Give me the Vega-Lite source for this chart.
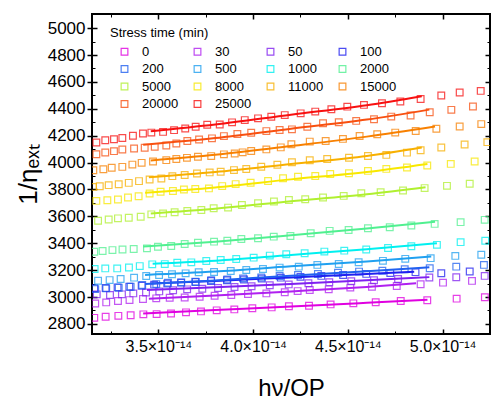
{
"$schema": "https://vega.github.io/schema/vega-lite/v6.json",
"width": 398, "height": 320,
"autosize": {"type": "none"},
"padding": {"left": 92, "top": 14, "right": 1, "bottom": 65},
"config": {"view": {"stroke": "#000", "strokeWidth": 2}, "font": "Liberation Sans",
  "axis": {"grid": false, "domain": false, "tickColor": "#000", "labelColor": "#000", "titleColor": "#000", "labelFont": "Liberation Sans", "titleFont": "Liberation Sans", "titleFontWeight": "normal"}},
"datasets": {
"pts": [
{"s":"0","x":3.162e-14,"y":2845},{"s":"0","x":3.222e-14,"y":2853},{"s":"0","x":3.289e-14,"y":2860},{"s":"0","x":3.354e-14,"y":2865},{"s":"0","x":3.421e-14,"y":2871},{"s":"0","x":3.491e-14,"y":2873},{"s":"0","x":3.567e-14,"y":2878},{"s":"0","x":3.646e-14,"y":2886},{"s":"0","x":3.725e-14,"y":2893},{"s":"0","x":3.808e-14,"y":2901},{"s":"0","x":3.901e-14,"y":2908},{"s":"0","x":3.996e-14,"y":2916},{"s":"0","x":4.098e-14,"y":2923},{"s":"0","x":4.189e-14,"y":2931},{"s":"0","x":4.295e-14,"y":2935},{"s":"0","x":4.409e-14,"y":2945},{"s":"0","x":4.529e-14,"y":2953},{"s":"0","x":4.647e-14,"y":2961},{"s":"0","x":4.779e-14,"y":2971},{"s":"0","x":4.919e-14,"y":2976},{"s":"0","x":5.074e-14,"y":2988},{"s":"0","x":5.223e-14,"y":2998},
{"s":"30","x":3.167e-14,"y":2952},{"s":"30","x":3.225e-14,"y":2960},{"s":"30","x":3.287e-14,"y":2970},{"s":"30","x":3.348e-14,"y":2977},{"s":"30","x":3.419e-14,"y":2985},{"s":"30","x":3.489e-14,"y":2990},{"s":"30","x":3.560e-14,"y":2995},{"s":"30","x":3.639e-14,"y":2997},{"s":"30","x":3.718e-14,"y":3002},{"s":"30","x":3.797e-14,"y":3010},{"s":"30","x":3.885e-14,"y":3015},{"s":"30","x":3.973e-14,"y":3022},{"s":"30","x":4.070e-14,"y":3027},{"s":"30","x":4.167e-14,"y":3035},{"s":"30","x":4.235e-14,"y":3044},{"s":"30","x":4.299e-14,"y":3052},{"s":"30","x":4.399e-14,"y":3057},{"s":"30","x":4.513e-14,"y":3070},{"s":"30","x":4.627e-14,"y":3077},{"s":"30","x":4.758e-14,"y":3082},{"s":"30","x":4.884e-14,"y":3095},{"s":"30","x":5.002e-14,"y":3107},{"s":"30","x":5.155e-14,"y":3120},
{"s":"50","x":3.175e-14,"y":3020},{"s":"50","x":3.245e-14,"y":3015},{"s":"50","x":3.308e-14,"y":3020},{"s":"50","x":3.368e-14,"y":3027},{"s":"50","x":3.435e-14,"y":3034},{"s":"50","x":3.505e-14,"y":3042},{"s":"50","x":3.578e-14,"y":3050},{"s":"50","x":3.652e-14,"y":3057},{"s":"50","x":3.732e-14,"y":3062},{"s":"50","x":3.815e-14,"y":3067},{"s":"50","x":3.902e-14,"y":3074},{"s":"50","x":3.992e-14,"y":3080},{"s":"50","x":4.088e-14,"y":3087},{"s":"50","x":4.188e-14,"y":3094},{"s":"50","x":4.292e-14,"y":3102},{"s":"50","x":4.402e-14,"y":3110},{"s":"50","x":4.518e-14,"y":3117},{"s":"50","x":4.638e-14,"y":3125},{"s":"50","x":4.765e-14,"y":3134},{"s":"50","x":4.930e-14,"y":3145},{"s":"50","x":5.072e-14,"y":3147},{"s":"50","x":5.222e-14,"y":3157},
{"s":"100","x":3.162e-14,"y":3065},{"s":"100","x":3.222e-14,"y":3067},{"s":"100","x":3.285e-14,"y":3072},{"s":"100","x":3.347e-14,"y":3077},{"s":"100","x":3.412e-14,"y":3084},{"s":"100","x":3.478e-14,"y":3092},{"s":"100","x":3.547e-14,"y":3100},{"s":"100","x":3.620e-14,"y":3107},{"s":"100","x":3.697e-14,"y":3112},{"s":"100","x":3.778e-14,"y":3119},{"s":"100","x":3.862e-14,"y":3125},{"s":"100","x":3.952e-14,"y":3130},{"s":"100","x":4.046e-14,"y":3137},{"s":"100","x":4.146e-14,"y":3144},{"s":"100","x":4.250e-14,"y":3150},{"s":"100","x":4.360e-14,"y":3157},{"s":"100","x":4.475e-14,"y":3164},{"s":"100","x":4.597e-14,"y":3172},{"s":"100","x":4.724e-14,"y":3179},{"s":"100","x":4.857e-14,"y":3185},{"s":"100","x":4.993e-14,"y":3177},{"s":"100","x":5.143e-14,"y":3190},
{"s":"200","x":3.167e-14,"y":3059},{"s":"200","x":3.225e-14,"y":3064},{"s":"200","x":3.291e-14,"y":3069},{"s":"200","x":3.354e-14,"y":3076},{"s":"200","x":3.415e-14,"y":3089},{"s":"200","x":3.489e-14,"y":3096},{"s":"200","x":3.551e-14,"y":3106},{"s":"200","x":3.621e-14,"y":3109},{"s":"200","x":3.695e-14,"y":3114},{"s":"200","x":3.779e-14,"y":3126},{"s":"200","x":3.864e-14,"y":3131},{"s":"200","x":3.947e-14,"y":3139},{"s":"200","x":4.043e-14,"y":3146},{"s":"200","x":4.140e-14,"y":3156},{"s":"200","x":4.237e-14,"y":3164},{"s":"200","x":4.342e-14,"y":3171},{"s":"200","x":4.448e-14,"y":3181},{"s":"200","x":4.559e-14,"y":3189},{"s":"200","x":4.682e-14,"y":3196},{"s":"200","x":4.800e-14,"y":3206},{"s":"200","x":4.932e-14,"y":3214},{"s":"200","x":5.072e-14,"y":3226},{"s":"200","x":5.218e-14,"y":3239},
{"s":"500","x":3.182e-14,"y":3121},{"s":"500","x":3.243e-14,"y":3126},{"s":"500","x":3.301e-14,"y":3134},{"s":"500","x":3.372e-14,"y":3144},{"s":"500","x":3.436e-14,"y":3156},{"s":"500","x":3.504e-14,"y":3164},{"s":"500","x":3.572e-14,"y":3169},{"s":"500","x":3.644e-14,"y":3176},{"s":"500","x":3.713e-14,"y":3184},{"s":"500","x":3.794e-14,"y":3186},{"s":"500","x":3.882e-14,"y":3194},{"s":"500","x":3.964e-14,"y":3201},{"s":"500","x":4.052e-14,"y":3209},{"s":"500","x":4.140e-14,"y":3219},{"s":"500","x":4.241e-14,"y":3226},{"s":"500","x":4.339e-14,"y":3239},{"s":"500","x":4.452e-14,"y":3246},{"s":"500","x":4.557e-14,"y":3259},{"s":"500","x":4.685e-14,"y":3269},{"s":"500","x":4.803e-14,"y":3284},{"s":"500","x":4.937e-14,"y":3289},{"s":"500","x":5.067e-14,"y":3306},{"s":"500","x":5.204e-14,"y":3314},
{"s":"1000","x":3.164e-14,"y":3208},{"s":"1000","x":3.220e-14,"y":3213},{"s":"1000","x":3.283e-14,"y":3213},{"s":"1000","x":3.345e-14,"y":3220},{"s":"1000","x":3.402e-14,"y":3230},{"s":"1000","x":3.468e-14,"y":3243},{"s":"1000","x":3.534e-14,"y":3245},{"s":"1000","x":3.600e-14,"y":3255},{"s":"1000","x":3.674e-14,"y":3258},{"s":"1000","x":3.753e-14,"y":3268},{"s":"1000","x":3.829e-14,"y":3275},{"s":"1000","x":3.911e-14,"y":3283},{"s":"1000","x":4.003e-14,"y":3293},{"s":"1000","x":4.088e-14,"y":3308},{"s":"1000","x":4.175e-14,"y":3318},{"s":"1000","x":4.272e-14,"y":3325},{"s":"1000","x":4.376e-14,"y":3338},{"s":"1000","x":4.481e-14,"y":3345},{"s":"1000","x":4.597e-14,"y":3353},{"s":"1000","x":4.712e-14,"y":3365},{"s":"1000","x":4.835e-14,"y":3378},{"s":"1000","x":4.970e-14,"y":3388},{"s":"1000","x":5.095e-14,"y":3408},{"s":"1000","x":5.225e-14,"y":3418},
{"s":"2000","x":3.162e-14,"y":3337},{"s":"2000","x":3.206e-14,"y":3342},{"s":"2000","x":3.258e-14,"y":3349},{"s":"2000","x":3.311e-14,"y":3354},{"s":"2000","x":3.370e-14,"y":3357},{"s":"2000","x":3.440e-14,"y":3362},{"s":"2000","x":3.498e-14,"y":3374},{"s":"2000","x":3.568e-14,"y":3379},{"s":"2000","x":3.639e-14,"y":3394},{"s":"2000","x":3.709e-14,"y":3404},{"s":"2000","x":3.794e-14,"y":3412},{"s":"2000","x":3.864e-14,"y":3419},{"s":"2000","x":3.938e-14,"y":3432},{"s":"2000","x":4.026e-14,"y":3437},{"s":"2000","x":4.109e-14,"y":3449},{"s":"2000","x":4.197e-14,"y":3454},{"s":"2000","x":4.304e-14,"y":3474},{"s":"2000","x":4.404e-14,"y":3492},{"s":"2000","x":4.504e-14,"y":3499},{"s":"2000","x":4.606e-14,"y":3512},{"s":"2000","x":4.721e-14,"y":3519},{"s":"2000","x":4.835e-14,"y":3532},{"s":"2000","x":4.958e-14,"y":3544},{"s":"2000","x":5.095e-14,"y":3557},{"s":"2000","x":5.222e-14,"y":3574},
{"s":"5000","x":3.182e-14,"y":3567},{"s":"5000","x":3.238e-14,"y":3577},{"s":"5000","x":3.287e-14,"y":3585},{"s":"5000","x":3.344e-14,"y":3590},{"s":"5000","x":3.407e-14,"y":3597},{"s":"5000","x":3.463e-14,"y":3615},{"s":"5000","x":3.525e-14,"y":3622},{"s":"5000","x":3.586e-14,"y":3630},{"s":"5000","x":3.653e-14,"y":3640},{"s":"5000","x":3.727e-14,"y":3647},{"s":"5000","x":3.792e-14,"y":3660},{"s":"5000","x":3.868e-14,"y":3665},{"s":"5000","x":3.941e-14,"y":3685},{"s":"5000","x":4.026e-14,"y":3697},{"s":"5000","x":4.110e-14,"y":3710},{"s":"5000","x":4.189e-14,"y":3722},{"s":"5000","x":4.275e-14,"y":3727},{"s":"5000","x":4.369e-14,"y":3740},{"s":"5000","x":4.478e-14,"y":3752},{"s":"5000","x":4.571e-14,"y":3772},{"s":"5000","x":4.673e-14,"y":3780},{"s":"5000","x":4.791e-14,"y":3792},{"s":"5000","x":4.905e-14,"y":3810},{"s":"5000","x":5.023e-14,"y":3827},{"s":"5000","x":5.143e-14,"y":3842},
{"s":"8000","x":3.173e-14,"y":3715},{"s":"8000","x":3.231e-14,"y":3720},{"s":"8000","x":3.287e-14,"y":3725},{"s":"8000","x":3.340e-14,"y":3740},{"s":"8000","x":3.396e-14,"y":3750},{"s":"8000","x":3.454e-14,"y":3770},{"s":"8000","x":3.512e-14,"y":3783},{"s":"8000","x":3.577e-14,"y":3788},{"s":"8000","x":3.635e-14,"y":3800},{"s":"8000","x":3.695e-14,"y":3803},{"s":"8000","x":3.767e-14,"y":3808},{"s":"8000","x":3.837e-14,"y":3825},{"s":"8000","x":3.908e-14,"y":3840},{"s":"8000","x":3.987e-14,"y":3850},{"s":"8000","x":4.079e-14,"y":3863},{"s":"8000","x":4.158e-14,"y":3883},{"s":"8000","x":4.237e-14,"y":3895},{"s":"8000","x":4.328e-14,"y":3900},{"s":"8000","x":4.407e-14,"y":3915},{"s":"8000","x":4.506e-14,"y":3920},{"s":"8000","x":4.606e-14,"y":3938},{"s":"8000","x":4.703e-14,"y":3953},{"s":"8000","x":4.812e-14,"y":3963},{"s":"8000","x":4.919e-14,"y":3978},{"s":"8000","x":5.043e-14,"y":3990},{"s":"8000","x":5.169e-14,"y":4008},
{"s":"11000","x":3.155e-14,"y":3819},{"s":"11000","x":3.191e-14,"y":3824},{"s":"11000","x":3.238e-14,"y":3832},{"s":"11000","x":3.291e-14,"y":3839},{"s":"11000","x":3.344e-14,"y":3849},{"s":"11000","x":3.398e-14,"y":3862},{"s":"11000","x":3.454e-14,"y":3874},{"s":"11000","x":3.516e-14,"y":3882},{"s":"11000","x":3.574e-14,"y":3899},{"s":"11000","x":3.639e-14,"y":3907},{"s":"11000","x":3.704e-14,"y":3919},{"s":"11000","x":3.771e-14,"y":3927},{"s":"11000","x":3.829e-14,"y":3932},{"s":"11000","x":3.899e-14,"y":3944},{"s":"11000","x":3.964e-14,"y":3952},{"s":"11000","x":4.043e-14,"y":3969},{"s":"11000","x":4.128e-14,"y":3984},{"s":"11000","x":4.205e-14,"y":4002},{"s":"11000","x":4.299e-14,"y":4017},{"s":"11000","x":4.391e-14,"y":4026},{"s":"11000","x":4.506e-14,"y":4036},{"s":"11000","x":4.606e-14,"y":4049},{"s":"11000","x":4.703e-14,"y":4057},{"s":"11000","x":4.812e-14,"y":4074},{"s":"11000","x":4.884e-14,"y":4092},{"s":"11000","x":4.993e-14,"y":4112},{"s":"11000","x":5.116e-14,"y":4134},{"s":"11000","x":5.236e-14,"y":4152},
{"s":"15000","x":3.157e-14,"y":3943},{"s":"15000","x":3.210e-14,"y":3950},{"s":"15000","x":3.254e-14,"y":3961},{"s":"15000","x":3.310e-14,"y":3968},{"s":"15000","x":3.363e-14,"y":3985},{"s":"15000","x":3.412e-14,"y":3998},{"s":"15000","x":3.472e-14,"y":4008},{"s":"15000","x":3.542e-14,"y":4018},{"s":"15000","x":3.595e-14,"y":4026},{"s":"15000","x":3.651e-14,"y":4035},{"s":"15000","x":3.709e-14,"y":4043},{"s":"15000","x":3.779e-14,"y":4048},{"s":"15000","x":3.846e-14,"y":4061},{"s":"15000","x":3.903e-14,"y":4068},{"s":"15000","x":3.945e-14,"y":4076},{"s":"15000","x":3.990e-14,"y":4086},{"s":"15000","x":4.070e-14,"y":4098},{"s":"15000","x":4.146e-14,"y":4113},{"s":"15000","x":4.202e-14,"y":4136},{"s":"15000","x":4.299e-14,"y":4156},{"s":"15000","x":4.383e-14,"y":4161},{"s":"15000","x":4.474e-14,"y":4176},{"s":"15000","x":4.562e-14,"y":4198},{"s":"15000","x":4.655e-14,"y":4211},{"s":"15000","x":4.750e-14,"y":4223},{"s":"15000","x":4.858e-14,"y":4235},{"s":"15000","x":4.967e-14,"y":4251},{"s":"15000","x":5.090e-14,"y":4268},{"s":"15000","x":5.204e-14,"y":4286},
{"s":"20000","x":3.173e-14,"y":4062},{"s":"20000","x":3.220e-14,"y":4075},{"s":"20000","x":3.266e-14,"y":4085},{"s":"20000","x":3.310e-14,"y":4097},{"s":"20000","x":3.372e-14,"y":4105},{"s":"20000","x":3.428e-14,"y":4110},{"s":"20000","x":3.481e-14,"y":4117},{"s":"20000","x":3.542e-14,"y":4127},{"s":"20000","x":3.595e-14,"y":4142},{"s":"20000","x":3.653e-14,"y":4160},{"s":"20000","x":3.715e-14,"y":4172},{"s":"20000","x":3.783e-14,"y":4180},{"s":"20000","x":3.846e-14,"y":4197},{"s":"20000","x":3.917e-14,"y":4212},{"s":"20000","x":3.990e-14,"y":4222},{"s":"20000","x":4.070e-14,"y":4234},{"s":"20000","x":4.140e-14,"y":4242},{"s":"20000","x":4.205e-14,"y":4247},{"s":"20000","x":4.286e-14,"y":4267},{"s":"20000","x":4.369e-14,"y":4292},{"s":"20000","x":4.452e-14,"y":4300},{"s":"20000","x":4.544e-14,"y":4310},{"s":"20000","x":4.638e-14,"y":4322},{"s":"20000","x":4.729e-14,"y":4342},{"s":"20000","x":4.831e-14,"y":4350},{"s":"20000","x":4.932e-14,"y":4374},{"s":"20000","x":5.046e-14,"y":4392},{"s":"20000","x":5.160e-14,"y":4417},
{"s":"25000","x":3.173e-14,"y":4149},{"s":"25000","x":3.220e-14,"y":4166},{"s":"25000","x":3.266e-14,"y":4173},{"s":"25000","x":3.310e-14,"y":4183},{"s":"25000","x":3.366e-14,"y":4199},{"s":"25000","x":3.419e-14,"y":4216},{"s":"25000","x":3.463e-14,"y":4223},{"s":"25000","x":3.525e-14,"y":4228},{"s":"25000","x":3.583e-14,"y":4241},{"s":"25000","x":3.642e-14,"y":4253},{"s":"25000","x":3.697e-14,"y":4266},{"s":"25000","x":3.758e-14,"y":4281},{"s":"25000","x":3.824e-14,"y":4283},{"s":"25000","x":3.889e-14,"y":4299},{"s":"25000","x":3.956e-14,"y":4316},{"s":"25000","x":4.026e-14,"y":4329},{"s":"25000","x":4.096e-14,"y":4341},{"s":"25000","x":4.167e-14,"y":4353},{"s":"25000","x":4.251e-14,"y":4366},{"s":"25000","x":4.328e-14,"y":4379},{"s":"25000","x":4.413e-14,"y":4396},{"s":"25000","x":4.497e-14,"y":4416},{"s":"25000","x":4.585e-14,"y":4429},{"s":"25000","x":4.680e-14,"y":4441},{"s":"25000","x":4.777e-14,"y":4454},{"s":"25000","x":4.884e-14,"y":4473},{"s":"25000","x":4.993e-14,"y":4499},{"s":"25000","x":5.090e-14,"y":4521},{"s":"25000","x":5.201e-14,"y":4533}
],
"fit": [
{"s":"0","x":3.42e-14,"y":2878},{"s":"0","x":3.8e-14,"y":2903},{"s":"0","x":4.2e-14,"y":2929},{"s":"0","x":4.6e-14,"y":2957},{"s":"0","x":4.92e-14,"y":2980},
{"s":"30","x":3.45e-14,"y":2988},{"s":"30","x":3.8e-14,"y":3012},{"s":"30","x":4.2e-14,"y":3042},{"s":"30","x":4.6e-14,"y":3075},{"s":"30","x":4.86e-14,"y":3102},
{"s":"50","x":3.44e-14,"y":3052},{"s":"50","x":3.8e-14,"y":3072},{"s":"50","x":4.2e-14,"y":3097},{"s":"50","x":4.6e-14,"y":3124},{"s":"50","x":4.93e-14,"y":3148},
{"s":"100","x":3.46e-14,"y":3100},{"s":"100","x":3.8e-14,"y":3120},{"s":"100","x":4.2e-14,"y":3146},{"s":"100","x":4.6e-14,"y":3172},{"s":"100","x":4.85e-14,"y":3188},
{"s":"200","x":3.43e-14,"y":3096},{"s":"200","x":3.8e-14,"y":3123},{"s":"200","x":4.2e-14,"y":3159},{"s":"200","x":4.6e-14,"y":3191},{"s":"200","x":4.93e-14,"y":3221},
{"s":"500","x":3.43e-14,"y":3164},{"s":"500","x":3.8e-14,"y":3189},{"s":"500","x":4.2e-14,"y":3228},{"s":"500","x":4.6e-14,"y":3264},{"s":"500","x":4.94e-14,"y":3301},
{"s":"1000","x":3.47e-14,"y":3248},{"s":"1000","x":3.8e-14,"y":3270},{"s":"1000","x":4.2e-14,"y":3313},{"s":"1000","x":4.6e-14,"y":3355},{"s":"1000","x":4.97e-14,"y":3400},
{"s":"2000","x":3.42e-14,"y":3375},{"s":"2000","x":3.8e-14,"y":3412},{"s":"2000","x":4.2e-14,"y":3459},{"s":"2000","x":4.6e-14,"y":3509},{"s":"2000","x":4.96e-14,"y":3559},
{"s":"5000","x":3.46e-14,"y":3622},{"s":"5000","x":3.8e-14,"y":3657},{"s":"5000","x":4.2e-14,"y":3712},{"s":"5000","x":4.6e-14,"y":3765},{"s":"5000","x":4.91e-14,"y":3817},
{"s":"8000","x":3.43e-14,"y":3775},{"s":"8000","x":3.8e-14,"y":3815},{"s":"8000","x":4.2e-14,"y":3875},{"s":"8000","x":4.6e-14,"y":3930},{"s":"8000","x":4.92e-14,"y":3990},
{"s":"11000","x":3.45e-14,"y":3890},{"s":"11000","x":3.8e-14,"y":3929},{"s":"11000","x":4.2e-14,"y":3989},{"s":"11000","x":4.6e-14,"y":4049},{"s":"11000","x":4.89e-14,"y":4112},
{"s":"15000","x":3.46e-14,"y":4016},{"s":"15000","x":3.8e-14,"y":4058},{"s":"15000","x":4.2e-14,"y":4123},{"s":"15000","x":4.6e-14,"y":4193},{"s":"15000","x":4.96e-14,"y":4268},
{"s":"20000","x":3.42e-14,"y":4132},{"s":"20000","x":3.8e-14,"y":4182},{"s":"20000","x":4.2e-14,"y":4252},{"s":"20000","x":4.6e-14,"y":4320},{"s":"20000","x":4.93e-14,"y":4394},
{"s":"25000","x":3.46e-14,"y":4233},{"s":"25000","x":3.8e-14,"y":4283},{"s":"25000","x":4.2e-14,"y":4356},{"s":"25000","x":4.6e-14,"y":4426},{"s":"25000","x":4.89e-14,"y":4493}
]
},
"layer": [
{"data": {"name": "pts"},
 "mark": {"type": "point", "shape": "square", "filled": false, "size": 45, "strokeWidth": 1.2, "opacity": 0.75, "clip": true},
 "encoding": {
  "x": {"field": "x", "type": "quantitative", "scale": {"domain": [3.15e-14, 5.25e-14], "nice": false, "zero": false},
        "axis": {"orient": "bottom", "values": [3.5e-14, 4e-14, 4.5e-14, 5e-14], "tickSize": -5, "tickWidth": 1.5, "labelPadding": 9, "labelFontSize": 16,
                 "labelExpr": "format(datum.value*1e14, '.1f') + '×10⁻¹⁴'", "title": "hν/OP", "titleFontSize": 24, "titlePadding": 22}},
  "y": {"field": "y", "type": "quantitative", "scale": {"domain": [2725, 5105], "nice": false, "zero": false},
        "axis": {"orient": "left", "values": [2800, 3000, 3200, 3400, 3600, 3800, 4000, 4200, 4400, 4600, 4800, 5000], "format": "d", "tickSize": 5, "tickWidth": 1.5, "labelPadding": 2, "labelFontSize": 17,
                 "title": "1/ηₑₓₜ", "titleFontSize": 26, "titlePadding": 6}},
  "color": {"field": "s", "type": "nominal",
            "scale": {"domain": ["0","30","50","100","200","500","1000","2000","5000","8000","11000","15000","20000","25000"],
                      "range": ["#e000e0","#b020f0","#8020f0","#2020f0","#2060f0","#20a0f0","#00f0f0","#50f090","#b0f030","#f8e800","#f8b000","#f88000","#f85010","#f81010"]},
            "legend": {"orient": "none", "legendX": 18, "legendY": 13, "direction": "horizontal", "columns": 4, "title": "Stress time (min)",
                       "titleFontSize": 13, "titleFontWeight": "normal", "titleFont": "Liberation Sans", "titleColor": "#000", "titlePadding": 5,
                       "labelFontSize": 13, "labelFont": "Liberation Sans", "labelColor": "#000", "symbolType": "square", "symbolSize": 45,
                       "symbolStrokeWidth": 1.2, "symbolOpacity": 0.8, "columnPadding": 4, "rowPadding": 3.5, "labelOffset": 11, "symbolOffset": 8, "padding": 0}}
 }},
{"data": {"name": "fit"},
 "mark": {"type": "line", "strokeWidth": 2, "clip": true, "interpolate": "monotone"},
 "encoding": {
  "x": {"field": "x", "type": "quantitative", "scale": {"domain": [3.15e-14, 5.25e-14], "nice": false, "zero": false},
        "axis": {"orient": "bottom", "values": [3.25e-14, 3.75e-14, 4.25e-14, 4.75e-14], "tickSize": -3, "tickWidth": 1, "labels": false, "title": null}},
  "y": {"field": "y", "type": "quantitative", "scale": {"domain": [2725, 5105], "nice": false, "zero": false},
        "axis": {"orient": "left", "values": [2900, 3100, 3300, 3500, 3700, 3900, 4100, 4300, 4500, 4700, 4900], "tickSize": -3, "tickWidth": 1, "labels": false, "title": null}},
  "stroke": {"field": "s", "type": "nominal", "legend": null,
            "scale": {"domain": ["0","30","50","100","200","500","1000","2000","5000","8000","11000","15000","20000","25000"],
                      "range": ["#e000e0","#b020f0","#8020f0","#2020f0","#2060f0","#20a0f0","#00f0f0","#50f090","#b0f030","#f8e800","#f8b000","#f88000","#f85010","#f81010"]}}
 }},
{"data": {"name": "fit"},
 "mark": {"type": "point", "opacity": 0},
 "encoding": {
  "x": {"field": "x", "type": "quantitative", "axis": {"orient": "top", "values": [3.5e-14, 4e-14, 4.5e-14, 5e-14], "tickSize": -5, "tickWidth": 1.5, "labels": false, "title": null}},
  "y": {"field": "y", "type": "quantitative", "axis": {"orient": "right", "values": [2800, 3000, 3200, 3400, 3600, 3800, 4000, 4200, 4400, 4600, 4800, 5000], "tickSize": -5, "tickWidth": 1.5, "labels": false, "title": null}}
 }},
{"data": {"name": "fit"},
 "mark": {"type": "point", "opacity": 0},
 "encoding": {
  "x": {"field": "x", "type": "quantitative", "axis": {"orient": "top", "values": [3.25e-14, 3.75e-14, 4.25e-14, 4.75e-14], "tickSize": -3, "tickWidth": 1, "labels": false, "title": null}},
  "y": {"field": "y", "type": "quantitative", "axis": {"orient": "right", "values": [2900, 3100, 3300, 3500, 3700, 3900, 4100, 4300, 4500, 4700, 4900], "tickSize": -3, "tickWidth": 1, "labels": false, "title": null}}
 }},
{"data": {"name": "fit"},
 "mark": {"type": "point", "opacity": 0},
 "encoding": {
  "x": {"field": "x", "type": "quantitative", "axis": null},
  "y": {"field": "y", "type": "quantitative", "axis": {"orient": "left", "values": [2800, 3000, 3200, 3400, 3600, 3800, 4000, 4200, 4400, 4600, 4800, 5000], "tickSize": -5, "tickWidth": 1.5, "labels": false, "title": null}}
 }}
],
"resolve": {"axis": {"x": "independent", "y": "independent"}}
}
